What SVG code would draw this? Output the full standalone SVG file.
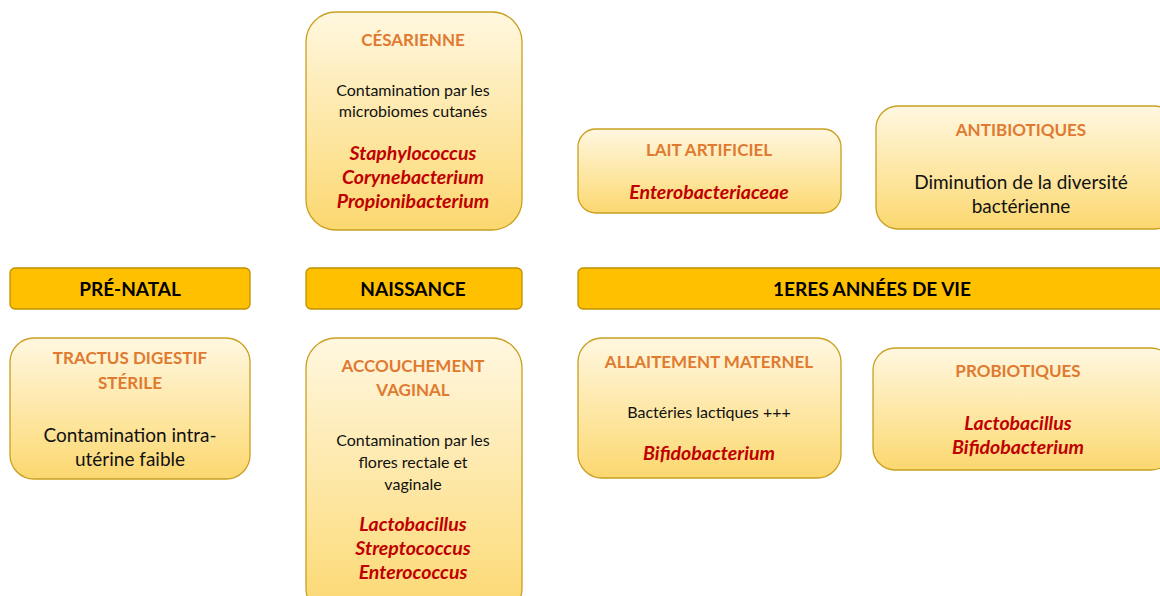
<svg xmlns="http://www.w3.org/2000/svg" width="1160" height="596" viewBox="0 0 1160 596">
<defs>
<linearGradient id="g" x1="0" y1="0" x2="0" y2="1">
<stop offset="0" stop-color="#FFF7E0"/>
<stop offset="0.7" stop-color="#FDE292"/>
<stop offset="1" stop-color="#FBD76F"/>
</linearGradient>
<style>
.box{fill:url(#g);stroke:#C9A020;stroke-width:1.3}
.bar{fill:#FFC000;stroke:#BF9000;stroke-width:1.3}
text{font-family:Lato,"Open Sans","Liberation Sans",sans-serif;text-anchor:middle}
.t{fill:#E07A30;font-weight:bold;font-size:17px}
.h{fill:#000;font-weight:bold;font-size:19px}
.s{fill:#111;font-size:16px}
.m{fill:#111;font-size:19px}
.r{fill:#C00000;font-weight:bold;font-style:italic;font-size:19.5px}
</style>
</defs>
<g id="cesarienne">
<rect class="box" x="306" y="12" width="216" height="218" rx="30"/>
<text class="t" x="413" y="46">CÉSARIENNE</text>
<text class="s" x="413" y="96">Contamination par les</text>
<text class="s" x="413" y="117">microbiomes cutanés</text>
<text class="r" x="413" y="160">Staphylococcus</text>
<text class="r" x="413" y="184">Corynebacterium</text>
<text class="r" x="413" y="208">Propionibacterium</text>
</g>
<g id="lait">
<rect class="box" x="578" y="129" width="263" height="84" rx="18"/>
<text class="t" x="709" y="156">LAIT ARTIFICIEL</text>
<text class="r" x="709" y="199">Enterobacteriaceae</text>
</g>
<g id="antibiotiques">
<rect class="box" x="876" y="106" width="300" height="123" rx="22"/>
<text class="t" x="1021" y="136">ANTIBIOTIQUES</text>
<text class="m" x="1021" y="189">Diminution de la diversité</text>
<text class="m" x="1021" y="213">bactérienne</text>
</g>
<g id="prenatal">
<rect class="bar" x="10" y="268" width="240" height="41" rx="5"/>
<text class="h" x="130" y="296">PRÉ-NATAL</text>
</g>
<g id="naissance">
<rect class="bar" x="306" y="268" width="216" height="41" rx="5"/>
<text class="h" x="413" y="296">NAISSANCE</text>
</g>
<g id="annees">
<rect class="bar" x="578" y="268" width="600" height="41" rx="5"/>
<text class="h" x="872" y="296">1ERES ANNÉES DE VIE</text>
</g>
<g id="tractus">
<rect class="box" x="10" y="338" width="240" height="141" rx="24"/>
<text class="t" x="130" y="364">TRACTUS DIGESTIF</text>
<text class="t" x="130" y="389">STÉRILE</text>
<text class="m" x="130" y="442">Contamination intra-</text>
<text class="m" x="130" y="466">utérine faible</text>
</g>
<g id="vaginal">
<rect class="box" x="306" y="338" width="216" height="280" rx="30"/>
<text class="t" x="413" y="372">ACCOUCHEMENT</text>
<text class="t" x="413" y="396">VAGINAL</text>
<text class="s" x="413" y="446">Contamination par les</text>
<text class="s" x="413" y="468">flores rectale et</text>
<text class="s" x="413" y="490">vaginale</text>
<text class="r" x="413" y="531">Lactobacillus</text>
<text class="r" x="413" y="555">Streptococcus</text>
<text class="r" x="413" y="579">Enterococcus</text>
</g>
<g id="allaitement">
<rect class="box" x="578" y="338" width="263" height="140" rx="24"/>
<text class="t" x="709" y="368">ALLAITEMENT MATERNEL</text>
<text class="s" x="709" y="418">Bactéries lactiques +++</text>
<text class="r" x="709" y="460">Bifidobacterium</text>
</g>
<g id="probiotiques">
<rect class="box" x="873" y="348" width="300" height="122" rx="22"/>
<text class="t" x="1018" y="377">PROBIOTIQUES</text>
<text class="r" x="1018" y="430">Lactobacillus</text>
<text class="r" x="1018" y="454">Bifidobacterium</text>
</g>
<g id="connectors"/>
</svg>
